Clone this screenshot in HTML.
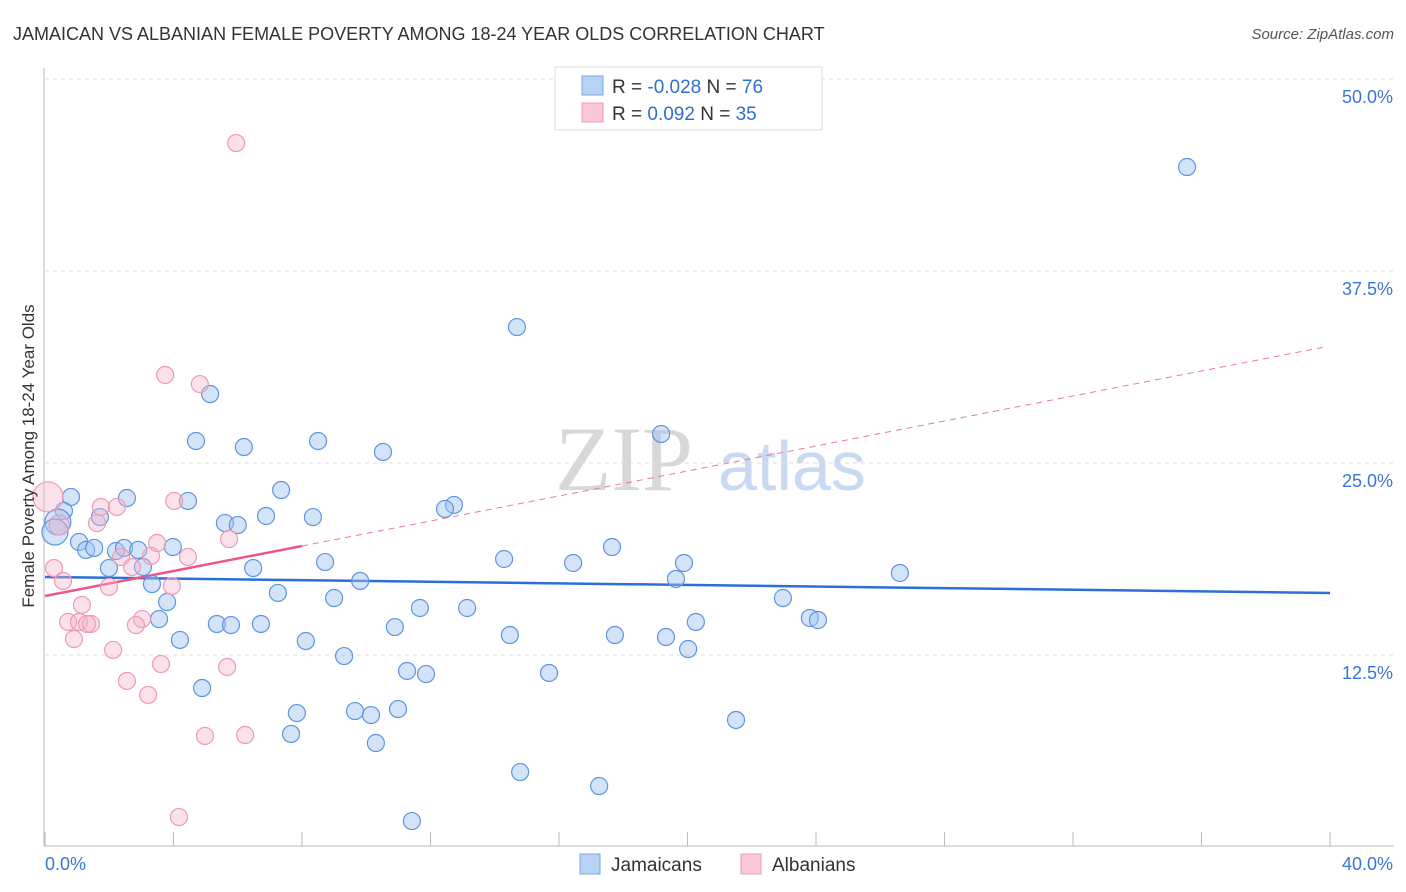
<!DOCTYPE html>
<html><head><meta charset="utf-8"><style>
body{margin:0;background:#fff;font-family:"Liberation Sans",sans-serif;}
</style></head><body>
<svg id="chart" width="1406" height="892" xmlns="http://www.w3.org/2000/svg" style="display:block">
<text x="13" y="40" font-size="18" fill="#333" font-family="Liberation Sans, sans-serif">JAMAICAN VS ALBANIAN FEMALE POVERTY AMONG 18-24 YEAR OLDS CORRELATION CHART</text>
<text x="1394" y="39" font-size="15" fill="#555" font-style="italic" text-anchor="end">Source: ZipAtlas.com</text>
<g>
<text x="555" y="490" font-size="92" fill="#d8d8d8" font-family="Liberation Serif, serif">ZIP</text>
<text x="718" y="490" font-size="70" fill="#c9d9f1">atlas</text>
</g>
<g id="grid"></g>
<g id="axes"></g>
<g id="trend"></g>
<g id="pts"></g>
<text transform="translate(34,456) rotate(-90)" font-size="17" fill="#333" text-anchor="middle">Female Poverty Among 18-24 Year Olds</text>
<g>
<rect x="555" y="67" width="267" height="63" fill="#fff" stroke="#ddd"/>
<rect x="582" y="76" width="21" height="19" fill="#b8d2f4" stroke="#7aa7e6"/>
<rect x="582" y="103" width="21" height="19" fill="#f9c7d6" stroke="#f09ab5"/>
<text x="612" y="93" font-size="19" fill="#333">R = <tspan fill="#2f6fd0">-0.028</tspan>   N = <tspan fill="#2f6fd0">76</tspan></text>
<text x="612" y="120" font-size="19" fill="#333">R =  <tspan fill="#2f6fd0"> 0.092</tspan>   N = <tspan fill="#2f6fd0">35</tspan></text>
</g>
<g>
<rect x="580" y="854" width="20" height="20" fill="#b8d2f4" stroke="#7aa7e6"/>
<text x="611" y="871" font-size="19" fill="#333">Jamaicans</text>
<rect x="741" y="854" width="20" height="20" fill="#f9c7d6" stroke="#f09ab5"/>
<text x="772" y="871" font-size="19" fill="#333">Albanians</text>
</g>
</svg>
<script>
const xTicks=[0,5,10,15,20,25,30,35,40];
const yTicks=[12.5,25,37.5,50];
const yTickLabels=["12.5%","25.0%","37.5%","50.0%"];
const xTickLabels=["0.0%","40.0%"];
const jamX=[35.55,14.69,5.14,4.70,8.50,6.19,10.52,19.18,2.55,0.81,4.45,7.35,12.73,12.45,0.59,1.71,6.88,8.34,5.60,6.00,0.40,0.31,1.06,1.28,1.53,2.21,2.46,2.90,3.98,17.65,14.29,16.44,19.89,8.72,1.99,3.05,6.48,26.61,19.64,9.81,3.33,7.25,9.00,22.97,3.80,11.67,13.14,3.55,23.81,24.06,5.35,5.79,6.72,10.89,20.26,14.47,17.74,19.33,4.20,8.12,20.02,9.31,11.27,11.86,15.69,4.89,7.84,9.65,10.15,10.99,21.51,7.66,10.30,14.79,17.25,11.42];
const jamY=[44.27,33.85,29.49,26.43,26.43,26.04,25.72,26.89,22.72,22.79,22.53,23.24,22.27,22.01,21.88,21.48,21.55,21.48,21.09,20.96,21.16,20.51,19.86,19.34,19.47,19.27,19.47,19.34,19.53,19.53,18.75,18.49,18.49,18.55,18.16,18.23,18.16,17.84,17.45,17.32,17.12,16.54,16.21,16.21,15.95,15.56,15.56,14.84,14.91,14.78,14.52,14.45,14.52,14.32,14.65,13.80,13.80,13.67,13.48,13.41,12.89,12.43,11.46,11.26,11.33,10.35,8.72,8.85,8.59,8.98,8.27,7.36,6.77,4.88,3.97,1.69];
const jamR=[8.5,8.5,8.5,8.5,8.5,8.5,8.5,8.5,8.5,8.5,8.5,8.5,8.5,8.5,8.5,8.5,8.5,8.5,8.5,8.5,13,13];
const albX=[5.95,3.74,4.82,0.09,4.02,1.74,2.24,1.62,0.44,5.73,3.49,3.30,2.37,4.45,2.71,0.28,0.56,3.95,1.99,1.15,3.02,0.72,1.06,1.43,1.31,2.83,0.90,2.12,3.61,5.67,2.55,3.21,4.98,6.23,4.17];
const albY=[45.83,30.73,30.14,22.79,22.53,22.14,22.14,21.09,20.96,20.05,19.79,18.95,18.88,18.88,18.23,18.16,17.32,16.99,16.93,15.76,14.84,14.65,14.65,14.52,14.52,14.45,13.54,12.83,11.91,11.72,10.81,9.90,7.23,7.29,1.95];
const albR=[8.5,8.5,8.5,15,8.5,8.5,8.5,8.5,10];
const jamTrend=[17.58,16.54];
const albTrend=[16.34,0.407];
const X=v=>45+v*(1285/40);
const Y=v=>847-v*15.36;
const NS="http://www.w3.org/2000/svg";
function mk(tag,parent,attrs){const e=document.createElementNS(NS,tag);for(const k in attrs)e.setAttribute(k,attrs[k]);document.getElementById(parent).appendChild(e);return e;}
yTicks.forEach((t,i)=>{
 const g=mk('line','grid',{x1:45,x2:1394,y1:Y(t),y2:Y(t),stroke:'#ddd','stroke-dasharray':'4,4'});
 
 
 const l=mk('text','axes',{x:1393,y:Y(t)+24,'font-size':18,fill:'#3a76d6','text-anchor':'end'});
 l.textContent=yTickLabels[i];
 
 
});
const ax=mk('line','axes',{x1:44,x2:44,y1:68,y2:846,stroke:'#bbb'});


const bx=mk('line','axes',{x1:44,x2:1394,y1:846,y2:846,stroke:'#bbb'});


for(let i=0;i<=10;i++){
 const t=mk('line','axes',{x1:X(i*4),x2:X(i*4),y1:832,y2:846,stroke:'#bbb'});
 
 
}
const xl0=mk('text','axes',{x:45,y:870,'font-size':18,fill:'#3a76d6'});
xl0.textContent=xTickLabels[0];


const xl1=mk('text','axes',{x:1393,y:870,'font-size':18,fill:'#3a76d6','text-anchor':'end'});
xl1.textContent=xTickLabels[1];


jamX.forEach((x,i)=>{
 const c=mk('circle','pts',{cx:X(x),cy:Y(jamY[i]),r:jamR[i]||8.5,fill:'rgba(160,195,240,0.45)',stroke:'#5d95e2','stroke-width':1.2});
 
 
});
albX.forEach((x,i)=>{
 const c=mk('circle','pts',{cx:X(x),cy:Y(albY[i]),r:albR[i]||8.5,fill:'rgba(246,180,202,0.4)',stroke:'#ef9ab5','stroke-width':1.2});
 
 
});
const jl=mk('line','trend',{x1:X(0),y1:Y(jamTrend[0]),x2:X(40),y2:Y(jamTrend[1]),stroke:'#2d6fd6','stroke-width':2.5});


const as=mk('line','trend',{x1:X(0),y1:Y(albTrend[0]),x2:X(8),y2:Y(albTrend[0]+albTrend[1]*8),stroke:'#e8588a','stroke-width':2.5});


const ad=mk('line','trend',{x1:X(8),y1:Y(albTrend[0]+albTrend[1]*8),x2:X(39.85),y2:Y(albTrend[0]+albTrend[1]*39.85),stroke:'#e8799f','stroke-width':1,'stroke-dasharray':'6,5'});


</script>
</body></html>
